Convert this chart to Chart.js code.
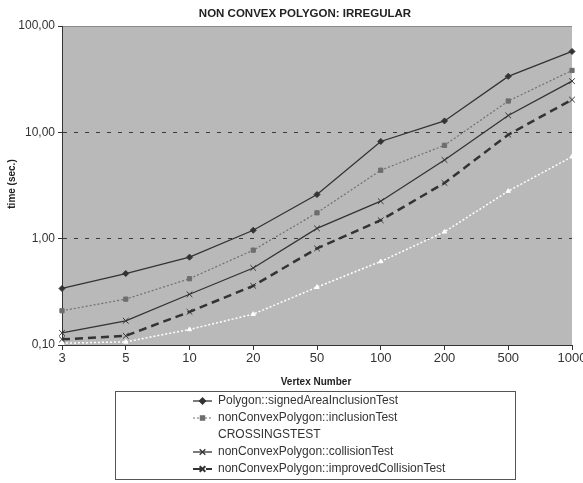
<!DOCTYPE html>
<html>
<head>
<meta charset="utf-8">
<script src="https://cdn.jsdelivr.net/npm/chart.js@4.4.0/dist/chart.umd.min.js"></script>
<style>
  body { margin: 0; background: #ffffff; }
  #wrap { width: 583px; height: 483px; }
</style>
</head>
<body>
<div id="wrap"><canvas id="myChart" width="583" height="483"></canvas></div>
<script>
var vertices = ['3', '5', '10', '20', '50', '100', '200', '500', '1000'];
var signedArea = [0.34, 0.47, 0.67, 1.2, 2.6, 8.2, 12.8, 33.6, 57.6];
var inclusion = [0.21, 0.27, 0.42, 0.78, 1.75, 4.4, 7.55, 19.7, 38.2];
var crossings = [0.104, 0.107, 0.14, 0.195, 0.35, 0.61, 1.16, 2.8, 5.9];
var collision = [0.13, 0.169, 0.30, 0.53, 1.25, 2.25, 5.5, 14.4, 30.3];
var improved = [0.113, 0.122, 0.205, 0.36, 0.81, 1.49, 3.34, 9.5, 20.3];
var yTicks = [0.1, 1, 10, 100];

var narrow = "'Liberation Sans Narrow', 'Arial Narrow', 'Liberation Sans', Arial, sans-serif";

// gray plot area, titles and the boxed legend
var decor = {
  id: 'decor',
  beforeDraw: function (chart) {
    var c = chart.ctx, a = chart.chartArea;
    c.save();
    c.fillStyle = '#b9b9b9';
    c.fillRect(a.left, a.top, a.right - a.left, a.bottom - a.top);
    c.strokeStyle = '#8a8a8a';
    c.lineWidth = 1;
    c.beginPath();
    c.moveTo(a.left, a.top + 0.5);
    c.lineTo(a.right, a.top + 0.5);
    c.stroke();
    c.restore();
  },
  afterDraw: function (chart) {
    var c = chart.ctx;
    c.save();
    c.fillStyle = '#222';
    c.textAlign = 'center';
    c.textBaseline = 'middle';
    c.font = 'bold 11.5px ' + narrow;
    c.fillText('NON CONVEX POLYGON: IRREGULAR', 305, 14);
    c.font = 'bold 10px ' + narrow;
    c.fillText('Vertex Number', 316, 382);
    c.translate(12, 184);
    c.rotate(-Math.PI / 2);
    c.fillText('time (sec.)', 0, 0);
    c.restore();

    // legend
    c.save();
    c.strokeStyle = '#555';
    c.lineWidth = 1;
    c.strokeRect(115.5, 391.5, 400, 88);
    chart.data.datasets.forEach(function (ds, i) {
      var y = 401 + i * 17;
      c.save();
      c.strokeStyle = ds.borderColor;
      c.lineWidth = Math.min(ds.borderWidth, 2);
      c.setLineDash(ds.borderDash || []);
      c.beginPath();
      c.moveTo(193, y);
      c.lineTo(212, y);
      c.stroke();
      c.setLineDash([]);
      c.fillStyle = ds.pointBackgroundColor;
      c.strokeStyle = ds.pointBorderColor;
      Chart.helpers.drawPoint(c, {
        pointStyle: ds.pointStyle, radius: ds.pointRadius, rotation: 0,
        borderWidth: ds.pointBorderWidth
      }, 202.5, y);
      c.restore();
      c.fillStyle = '#333';
      c.font = '12px ' + narrow;
      c.textAlign = 'left';
      c.textBaseline = 'middle';
      c.fillText(ds.label, 218, y);
    });
    c.restore();
  }
};

var ctx = document.getElementById('myChart').getContext('2d');
var myChart = new Chart(ctx, {
  type: 'line',
  data: {
    labels: vertices,
    datasets: [{
      label: 'Polygon::signedAreaInclusionTest',
      data: signedArea,
      borderColor: '#333333',
      borderWidth: 1.3,
      pointStyle: 'rectRot',
      pointRadius: 3,
      pointBackgroundColor: '#333333',
      pointBorderColor: '#333333',
      pointBorderWidth: 1
    }, {
      label: 'nonConvexPolygon::inclusionTest',
      data: inclusion,
      borderColor: '#707070',
      borderWidth: 1.2,
      borderDash: [2, 2],
      pointStyle: 'rect',
      pointRadius: 3,
      pointBackgroundColor: '#6e6e6e',
      pointBorderColor: '#6e6e6e',
      pointBorderWidth: 1
    }, {
      label: 'CROSSINGSTEST',
      data: crossings,
      borderColor: '#ffffff',
      borderWidth: 1.5,
      borderDash: [2, 2],
      pointStyle: 'triangle',
      pointRadius: 2.5,
      pointBackgroundColor: '#ffffff',
      pointBorderColor: '#ffffff',
      pointBorderWidth: 1
    }, {
      label: 'nonConvexPolygon::collisionTest',
      data: collision,
      borderColor: '#333333',
      borderWidth: 1.3,
      pointStyle: 'crossRot',
      pointRadius: 4,
      pointBackgroundColor: '#333333',
      pointBorderColor: '#333333',
      pointBorderWidth: 1
    }, {
      label: 'nonConvexPolygon::improvedCollisionTest',
      data: improved,
      borderColor: '#333333',
      borderWidth: 2.5,
      borderDash: [8, 5],
      pointStyle: 'crossRot',
      pointRadius: 4,
      pointBackgroundColor: '#333333',
      pointBorderColor: '#333333',
      pointBorderWidth: 1
    }]
  },
  options: {
    responsive: false,
    animation: false,
    layout: { padding: { top: 26, right: 11, left: 0, bottom: 0 } },
    plugins: {
      legend: { display: false },
      title: { display: false },
      tooltip: { enabled: false }
    },
    scales: {
      x: {
        offset: false,
        afterFit: function (scale) {
          scale.height = 138;
          scale.paddingLeft = 0;
          scale.paddingRight = 0;
        },
        border: { color: '#333', width: 1 },
        grid: { drawOnChartArea: false, tickLength: 5, tickColor: '#333' },
        ticks: { color: '#333', padding: 1, maxRotation: 0, font: { size: 13, family: narrow } }
      },
      y: {
        type: 'logarithmic',
        min: 0.1,
        max: 100,
        afterFit: function (scale) { scale.width = 62; },
        afterBuildTicks: function (scale) {
          scale.ticks = yTicks.map(function (v) { return { value: v }; });
        },
        border: { color: '#333', width: 1, dash: [4, 7] },
        grid: {
          color: function (c) {
            var v = c.tick && c.tick.value;
            return (v === 1 || v === 10) ? '#3a3a3a' : 'rgba(0,0,0,0)';
          },
          tickColor: '#333',
          tickLength: 4,
          tickBorderDash: []
        },
        ticks: {
          color: '#333',
          padding: 3,
          font: { size: 12, family: narrow },
          callback: function (v) { return Number(v).toFixed(2).replace('.', ','); }
        }
      }
    }
  },
  plugins: [decor]
});
</script>
</body>
</html>
